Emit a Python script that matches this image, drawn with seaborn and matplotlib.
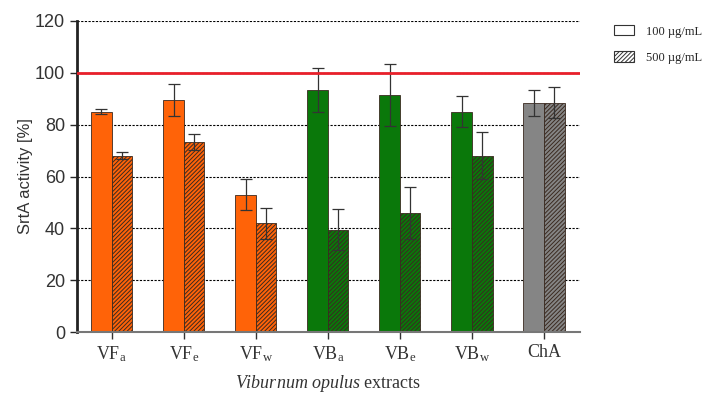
import matplotlib
matplotlib.use("Agg")
import matplotlib.pyplot as plt
from matplotlib.patches import Patch
import seaborn as sns
import pandas as pd
import numpy as np

categories = ["VF$_{\\mathregular{a}}$", "VF$_{\\mathregular{e}}$", "VF$_{\\mathregular{w}}$",
              "VB$_{\\mathregular{a}}$", "VB$_{\\mathregular{e}}$", "VB$_{\\mathregular{w}}$", "ChA"]
conc_labels = ["100 µg/mL", "500 µg/mL"]
vals_100 = [85, 89.5, 53, 93.5, 91.5, 85, 88.5]
err_100 = [1, 6, 6, 8.5, 12, 6, 5]
vals_500 = [68, 73.3, 42, 39.5, 46, 68, 88.5]
err_500 = [1.3, 3, 6, 8, 10, 9, 6]
group_colors = ["#FF6308", "#FF6308", "#FF6308", "#0A780A", "#0A780A", "#0A780A", "#858585"]
yticks = [0, 20, 40, 60, 80, 100, 120]

df = pd.DataFrame({
    "cat": categories * 2,
    "conc": [conc_labels[0]] * 7 + [conc_labels[1]] * 7,
    "val": vals_100 + vals_500,
})

sns.set_style("white")
plt.rcParams["font.family"] = ["Liberation Serif", "DejaVu Serif"]
plt.rcParams["mathtext.fontset"] = "custom"
plt.rcParams["mathtext.rm"] = "Liberation Serif"
plt.rcParams["mathtext.it"] = "Liberation Serif:italic"
plt.rcParams["hatch.linewidth"] = 0.7

fig = plt.figure(figsize=(7.17, 3.94), dpi=100)
ax = fig.add_axes([0.107, 0.157, 0.702, 0.79])

# grid lines behind bars
for y in yticks[1:]:
    ax.axhline(y, color="black", linestyle=(0, (2, 1.3)), linewidth=0.8, zorder=0)

sns.barplot(data=df, x="cat", y="val", hue="conc", order=categories,
            hue_order=conc_labels, errorbar=None, width=0.57, gap=0,
            ax=ax, legend=False, zorder=2)

errs = [err_100, err_500]
bar_conts = list(ax.containers)
for ci, cont in enumerate(bar_conts):
    for i, bar in enumerate(cont):
        bar.set_facecolor(group_colors[i])
        bar.set_edgecolor("#3a2a20")
        bar.set_linewidth(0.6)
        if ci == 1:
            bar.set_hatch("////////")
        xc = bar.get_x() + bar.get_width() / 2
        ax.errorbar(xc, bar.get_height(), yerr=errs[ci][i], color="#333333",
                    elinewidth=0.9, capsize=4, capthick=0.9, zorder=3)

ax.axhline(100, color="#E8202A", linewidth=2, zorder=4)

ax.set_ylim(0, 120)
ax.set_xlim(-0.486, 6.5)
ax.set_yticks(yticks)
ax.set_yticklabels([str(t) for t in yticks], fontsize=13, fontfamily=["Liberation Sans"], color="#333333")
ax.tick_params(axis="x", labelsize=13, length=5, width=1, colors="#333333", direction="out", bottom=True)
ax.tick_params(axis="y", length=5, width=1, direction="out", left=True)

for s in ["top", "right"]:
    ax.spines[s].set_visible(False)
ax.spines["left"].set_color("#222222")
ax.spines["left"].set_linewidth(2)
ax.spines["bottom"].set_color("#777777")
ax.spines["bottom"].set_linewidth(1.5)

ax.set_ylabel("SrtA activity [%]", fontsize=12, fontfamily=["Liberation Sans"], color="#333333", labelpad=1)
ax.set_xlabel("$\\it{Viburnum\\ opulus}$ extracts", fontsize=13, color="#333333", labelpad=7)

handles = [Patch(facecolor="white", edgecolor="#333333", linewidth=0.8, label=conc_labels[0]),
           Patch(facecolor="white", edgecolor="#333333", linewidth=0.8, hatch="////////", label=conc_labels[1])]
fig.legend(handles=handles, loc="upper left", bbox_to_anchor=(0.84, 0.965), frameon=False,
           fontsize=9, handlelength=1.6, handleheight=0.9, labelspacing=1.1, handletextpad=1.0)

fig.savefig("out.png", dpi=100)
